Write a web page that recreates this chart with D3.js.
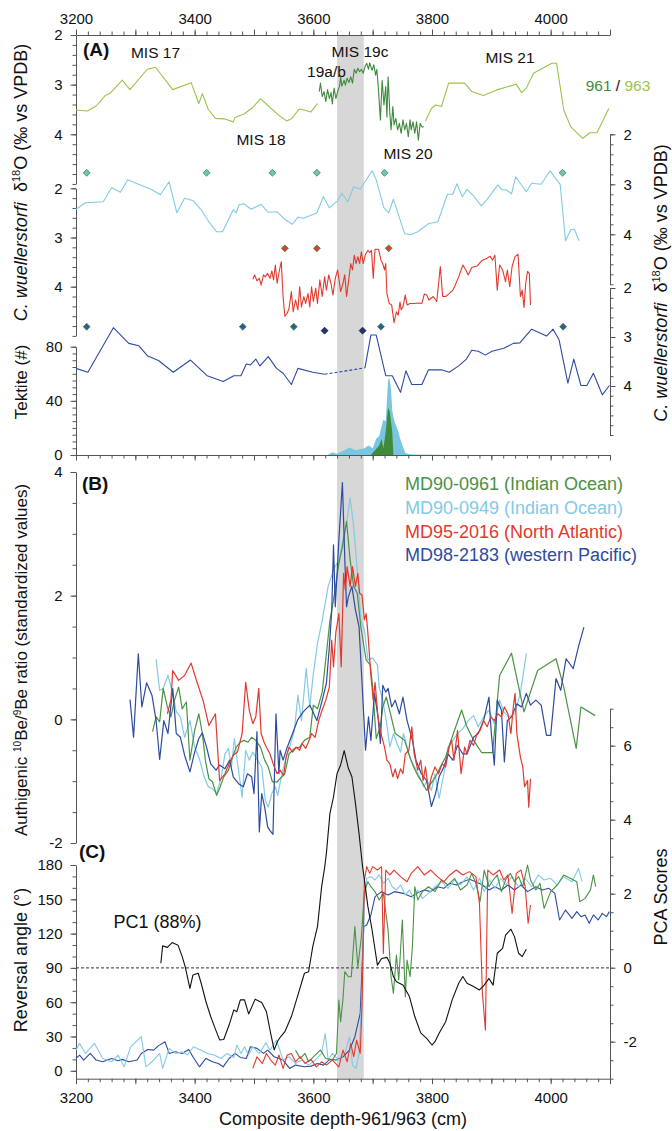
<!DOCTYPE html>
<html><head><meta charset="utf-8">
<script src="https://cdn.jsdelivr.net/npm/d3@7"></script>
<style>
body{margin:0;background:#fff}
svg{display:block;font-family:"Liberation Sans",Arial,Helvetica,sans-serif}
</style></head><body>
<svg id="c" width="672" height="1131"></svg>
<script>
// ---------------- DATA ----------------
const depthTicks = [3200,3400,3600,3800,4000];
const band = [3640,3685];

// Panel A: C. wuellerstorfi d18O (per mil)
const d963a = [[3200,3.51],[3219,3.53],[3234,3.43],[3249,3.22],[3257,3.18],[3278,2.91],[3291,3.10],[3320,2.69],[3334,2.65],[3363,3.10],[3394,2.96],[3407,3.38],[3413,3.18],[3423,3.50],[3435,3.68],[3451,3.69],[3465,3.75],[3468,3.66],[3483,3.59],[3498,3.46],[3511,3.28],[3527,3.46],[3542,3.62],[3555,3.73],[3564,3.68],[3576,3.49],[3584,3.51],[3596,3.55],[3607,3.38]];
const d961 = [[3610,3.14],[3612,2.97],[3615,3.24],[3618,3.14],[3621,3.34],[3624,3.10],[3627,3.28],[3630,3.16],[3632,3.39],[3635,3.07],[3638,3.28],[3641,3.14],[3644,3.04],[3646,2.84],[3648,3.03],[3652,2.91],[3654,3.01],[3657,2.87],[3660,2.96],[3663,2.84],[3666,2.97],[3669,2.69],[3672,2.77],[3675,2.67],[3678,2.74],[3681,2.69],[3684,2.77],[3687,2.64],[3690,2.57],[3693,2.69],[3695,2.56],[3699,2.71],[3702,2.60],[3705,2.81],[3707,2.69],[3710,3.14],[3713,3.71],[3716,2.91],[3719,3.41],[3722,3.04],[3724,3.65],[3726,2.84],[3729,3.58],[3731,3.91],[3734,3.44],[3736,3.81],[3739,3.68],[3742,3.91],[3745,3.78],[3748,3.98],[3751,3.71],[3754,3.91],[3757,3.78],[3760,4.05],[3763,3.71],[3765,3.91],[3768,3.75],[3771,3.98],[3774,3.75],[3777,4.12],[3780,3.78],[3783,3.85],[3786,3.85]];
const d963b = [[3789,3.73],[3799,3.48],[3806,3.41],[3816,3.44],[3828,2.97],[3855,2.97],[3867,3.14],[3887,3.22],[3911,3.10],[3942,2.99],[3951,3.16],[3959,3.07],[3971,2.77],[4002,2.57],[4010,2.57],[4022,3.51],[4034,3.85],[4054,4.08],[4066,3.97],[4078,3.97],[4098,3.48]];
const d949 = [[3200,3.50],[3216,3.37],[3246,3.35],[3260,3.07],[3275,3.16],[3287,2.91],[3328,3.11],[3342,3.21],[3357,2.95],[3370,3.57],[3383,3.28],[3398,3.33],[3411,3.51],[3424,3.75],[3437,3.95],[3447,3.95],[3465,3.51],[3470,3.57],[3475,3.41],[3483,3.39],[3495,3.50],[3512,3.40],[3524,3.56],[3539,3.55],[3552,3.70],[3564,3.80],[3574,3.66],[3583,3.68],[3594,3.63],[3606,3.57],[3617,3.25],[3627,3.47],[3641,3.33],[3648,3.18],[3658,3.35],[3668,3.05],[3679,3.10],[3699,2.73],[3706,2.91],[3719,3.47],[3727,3.57],[3735,3.30],[3754,3.99],[3763,4.01],[3776,3.95],[3794,3.79],[3810,3.75],[3826,3.20],[3835,3.20],[3842,2.99],[3851,3.25],[3859,3.10],[3870,3.23],[3883,3.43],[3893,3.30],[3911,3.01],[3918,3.11],[3925,3.11],[3934,3.19],[3941,2.85],[3959,3.15],[3968,2.98],[3984,3.00],[3999,2.73],[4016,3.00],[4025,4.13],[4034,3.91],[4040,3.90],[4048,4.13]];
const d2016 = [[3498,3.85],[3501,3.76],[3505,3.88],[3509,3.83],[3512,3.97],[3516,3.76],[3519,3.80],[3523,3.73],[3527,3.83],[3530,3.68],[3533,3.86],[3536,3.56],[3539,3.93],[3543,3.66],[3546,3.49],[3549,4.20],[3552,4.60],[3556,4.54],[3559,4.44],[3563,4.10],[3566,4.51],[3570,4.27],[3574,4.47],[3577,4.00],[3580,4.41],[3584,4.20],[3587,4.34],[3591,4.14],[3594,4.41],[3597,4.00],[3600,4.30],[3604,4.03],[3607,4.34],[3611,3.86],[3615,4.20],[3619,3.80],[3622,4.07],[3626,3.76],[3630,3.95],[3633,4.17],[3637,3.83],[3641,3.66],[3646,4.10],[3650,3.93],[3653,3.76],[3656,4.20],[3660,3.83],[3663,3.53],[3666,3.66],[3669,3.36],[3672,3.53],[3675,3.39],[3678,3.53],[3681,3.29],[3684,3.53],[3688,3.34],[3692,3.26],[3695,3.31],[3698,3.26],[3701,3.83],[3704,3.24],[3710,3.24],[3714,3.46],[3717,3.53],[3720,3.66],[3722,3.53],[3724,4.14],[3728,4.34],[3732,4.37],[3736,4.73],[3740,4.51],[3743,4.58],[3746,4.31],[3748,4.47],[3751,4.41],[3755,4.17],[3758,4.37],[3763,4.34],[3770,4.34],[3776,4.33],[3783,4.34],[3787,4.15],[3791,4.17],[3795,4.27],[3802,4.20],[3808,4.30],[3814,3.59],[3818,4.20],[3823,4.20],[3829,4.14],[3835,4.07],[3839,3.97],[3845,3.80],[3852,3.56],[3857,3.66],[3861,3.76],[3867,3.61],[3876,3.58],[3884,3.47],[3893,3.42],[3898,3.38],[3902,3.46],[3906,3.36],[3910,4.07],[3914,3.56],[3919,3.66],[3924,3.90],[3927,3.66],[3931,4.00],[3935,3.59],[3940,3.39],[3945,3.34],[3949,4.20],[3952,4.07],[3955,4.42],[3958,3.93],[3961,3.69],[3964,3.73],[3966,4.37]];
const d2183a = [[3200,3.64],[3220,3.72],[3263,2.81],[3289,3.13],[3306,3.18],[3321,3.39],[3339,3.48],[3364,3.72],[3393,3.47],[3421,3.79],[3448,3.91],[3466,3.79],[3478,3.79],[3487,3.55],[3494,3.57],[3503,3.45],[3510,3.59],[3524,3.40],[3538,3.64],[3549,3.74],[3563,3.97],[3574,3.64],[3599,3.72],[3619,3.76]];
const d2183gap = [[3619,3.76],[3687,3.63]];
const d2183b = [[3687,3.63],[3697,2.96],[3706,2.96],[3722,3.79],[3733,3.79],[3747,4.13],[3756,3.69],[3766,3.97],[3783,3.97],[3794,3.67],[3816,3.67],[3829,3.72],[3845,3.59],[3858,3.45],[3867,3.27],[3878,3.29],[3890,3.37],[3901,3.29],[3921,3.23],[3937,3.13],[3948,3.12],[3968,2.84],[3993,2.98],[4004,2.84],[4014,3.05],[4029,3.94],[4039,3.45],[4051,3.99],[4061,3.99],[4072,3.74],[4087,4.18],[4099,3.99]];
// age tie points (depths)
const tie949 = [3218,3420,3531,3606,3720,4020];
const tie2016 = [3552,3606,3727];
const tie2183 = [3218,3481,3567,3714,4021];
const tie2183b = [3619,3683];

// Tektite counts
const tekt949 = [[3624,0],[3632,2],[3639,1],[3650,3],[3661,5.5],[3671,3.5],[3686,5],[3693,7],[3700,5],[3706,12],[3711,14],[3715,21],[3718,26],[3722,25],[3726,55],[3728,57],[3731,48],[3733,33],[3735,28],[3738,23],[3742,19],[3747,11],[3755,1.5],[3762,0.5],[3770,0.3],[3848,0]];
const tekt961 = [[3697,0],[3704,3.6],[3711,7],[3715,12],[3718,5],[3722,17],[3726,35],[3729,32],[3733,17],[3735,0]];

// Panel B: authigenic 10Be/9Be (standardized)
const be961 = [[3329,-0.20],[3335,0.04],[3341,-0.04],[3347,0.50],[3354,0.20],[3360,0.04],[3366,0.31],[3373,0.52],[3379,0.17],[3386,0.28],[3392,-0.66],[3400,-0.18],[3407,0.09],[3413,-0.23],[3418,-0.66],[3424,-0.96],[3430,-1.01],[3437,-1.23],[3443,-1.09],[3449,-0.93],[3457,-0.82],[3462,-0.66],[3470,-0.45],[3477,-0.37],[3483,-0.34],[3490,-0.37],[3496,-0.29],[3503,-0.34],[3511,-0.45],[3518,-0.66],[3524,-0.77],[3531,-1.01],[3539,-1.01],[3544,-0.96],[3552,-0.88],[3559,-0.56],[3568,-0.47],[3577,-0.45],[3585,-0.34],[3594,-0.29],[3600,0.23],[3607,0.17],[3615,0.44],[3622,1.06],[3628,1.60],[3634,1.93],[3643,2.52],[3649,2.79],[3656,3.20],[3662,2.58],[3668,2.15],[3674,2.04],[3680,1.50],[3689,0.96],[3696,0.88],[3700,0.52],[3706,-0.31],[3713,-0.12],[3717,0.20],[3723,0.36],[3730,0.09],[3738,-0.23],[3747,-0.29],[3754,-0.34],[3761,-0.56],[3769,-0.77],[3776,-0.91],[3783,-1.01],[3791,-1.15],[3798,-1.04],[3806,-0.93],[3814,-0.77],[3823,-0.61],[3832,-0.34],[3840,-0.12],[3850,0.15],[3858,-0.10],[3870,-0.34],[3884,-0.54],[3902,-0.54],[3914,0.71],[3934,1.07],[3955,0.12],[3978,0.79],[4009,0.98],[4022,0.52],[4043,-0.47],[4051,0.20],[4075,0.06]];
const be949 = [[3335,0.97],[3341,0.47],[3347,0.50],[3355,0.71],[3363,0.42],[3369,0.12],[3376,0.04],[3383,-0.29],[3392,-0.02],[3400,-0.45],[3408,-0.64],[3416,-0.93],[3423,-1.09],[3430,-1.12],[3437,-1.20],[3445,-0.93],[3451,-0.56],[3457,-0.47],[3462,-0.77],[3467,-0.31],[3472,-0.69],[3480,-1.26],[3486,-0.50],[3492,-0.66],[3498,-0.53],[3506,-0.66],[3513,-0.77],[3519,-1.31],[3524,-1.42],[3530,-1.20],[3536,-1.09],[3540,-1.23],[3546,-0.93],[3553,-0.66],[3560,-0.45],[3568,-0.18],[3574,0.39],[3580,-0.02],[3588,0.82],[3594,0.20],[3600,0.74],[3607,1.23],[3615,1.60],[3625,2.15],[3634,2.42],[3643,2.58],[3649,2.85],[3657,3.23],[3662,3.58],[3668,3.12],[3674,2.42],[3680,1.61],[3686,1.45],[3692,0.96],[3700,0.99],[3708,0.88],[3711,0.52],[3717,0.31],[3723,-0.02],[3729,-0.45],[3735,-0.23],[3741,-0.39],[3747,-0.53],[3752,-0.23],[3758,-0.45],[3764,-0.66],[3771,-0.77],[3779,-0.93],[3786,-1.09],[3792,-0.99],[3799,-1.15],[3805,-0.88],[3812,-1.28],[3820,-0.88],[3827,-0.45],[3835,-0.34],[3843,-0.23],[3852,-0.15],[3861,-0.02],[3870,0.06],[3878,-0.12],[3887,0.04],[3896,0.15],[3905,-0.07],[3914,0.31],[3921,0.12],[3930,0.04],[3940,0.09],[3949,0.44],[3954,0.74],[3959,1.07]];
const be2016 = [[3354,0.09],[3360,0.31],[3363,0.79],[3373,0.63],[3383,0.71],[3394,0.91],[3404,0.60],[3414,0.31],[3424,-0.10],[3435,0.09],[3442,-0.99],[3451,-0.88],[3458,-0.72],[3465,-0.58],[3472,-0.53],[3480,-0.23],[3486,0.60],[3492,0.15],[3498,-0.07],[3503,0.04],[3508,0.50],[3512,-0.23],[3517,-0.37],[3521,-0.45],[3527,-0.56],[3533,-0.74],[3539,-0.88],[3544,-0.82],[3550,-0.91],[3554,-0.61],[3559,-0.45],[3565,-0.53],[3571,-0.45],[3577,-0.50],[3581,-0.39],[3587,-0.47],[3593,-0.34],[3597,-0.23],[3603,-0.29],[3609,-0.02],[3615,0.15],[3621,0.31],[3627,0.52],[3631,1.28],[3634,0.85],[3638,1.41],[3643,1.71],[3647,0.85],[3651,2.36],[3654,2.09],[3657,2.47],[3662,2.15],[3666,2.47],[3671,2.15],[3675,2.36],[3678,2.04],[3682,2.01],[3686,1.61],[3689,1.71],[3692,1.39],[3697,0.71],[3701,0.31],[3704,0.60],[3709,0.04],[3714,-0.23],[3720,-0.45],[3724,-0.66],[3729,-0.72],[3734,-0.93],[3738,-0.80],[3742,-0.96],[3747,-0.80],[3751,-0.88],[3755,-0.56],[3761,-0.50],[3766,-0.12],[3770,-0.56],[3776,-0.82],[3781,-0.66],[3785,-0.99],[3789,-0.77],[3794,-1.15],[3799,-0.93],[3805,-0.77],[3811,-0.88],[3817,-0.72],[3823,-0.77],[3829,-0.45],[3833,-0.34],[3837,-0.66],[3843,-0.18],[3849,-0.88],[3855,-0.45],[3859,-0.56],[3864,-0.34],[3870,-0.42],[3876,-0.23],[3881,-0.18],[3887,-0.02],[3893,-0.12],[3899,0.04],[3905,-0.02],[3911,0.09],[3917,0.04],[3922,0.20],[3928,0.09],[3933,-0.23],[3937,0.20],[3940,0.42],[3943,-0.23],[3949,-0.61],[3953,-0.77],[3956,-1.09],[3961,-0.99],[3963,-1.42],[3966,-0.96]];
const be2183 = [[3291,0.32],[3297,-0.29],[3305,1.06],[3311,0.20],[3319,0.59],[3328,0.39],[3335,-0.02],[3341,-0.65],[3348,-0.02],[3355,-0.23],[3363,0.50],[3369,-0.23],[3376,-0.29],[3383,-0.58],[3392,-0.85],[3400,-0.53],[3407,-0.31],[3413,-0.22],[3420,-0.45],[3427,-0.72],[3436,-0.82],[3442,-0.74],[3451,-0.80],[3459,-0.66],[3465,-0.93],[3474,-1.04],[3482,-1.09],[3489,-0.88],[3496,-0.93],[3500,-1.20],[3505,-0.20],[3509,-1.82],[3513,-1.20],[3518,-1.42],[3523,-1.74],[3527,-1.80],[3532,-1.86],[3537,0.09],[3542,-0.88],[3544,-0.50],[3549,-0.66],[3556,-0.45],[3565,-0.23],[3574,0.00],[3583,0.12],[3594,0.23],[3606,-0.02],[3615,0.31],[3622,0.58],[3627,1.17],[3631,1.76],[3634,2.82],[3637,1.82],[3643,2.90],[3649,3.83],[3653,2.60],[3656,1.82],[3659,1.98],[3665,2.15],[3671,1.77],[3677,1.50],[3683,0.42],[3688,-0.50],[3693,0.04],[3697,-0.34],[3703,0.42],[3709,0.04],[3713,-0.39],[3717,0.55],[3722,0.44],[3726,0.50],[3732,0.20],[3738,0.31],[3745,0.09],[3751,0.36],[3758,-0.02],[3767,-0.34],[3773,-0.66],[3782,-0.88],[3791,-0.99],[3799,-1.41],[3806,-1.20],[3812,-0.93],[3820,-0.77],[3827,-0.56],[3835,-0.66],[3843,-0.42],[3852,-0.56],[3859,-0.56],[3870,-0.29],[3878,-0.23],[3887,-0.02],[3896,0.36],[3900,-0.23],[3905,-0.74],[3910,0.31],[3917,0.15],[3922,-0.69],[3927,-0.02],[3934,0.04],[3943,0.25],[3951,0.20],[3959,0.42],[3966,0.23],[3975,0.31],[3984,0.23],[3993,-0.26],[4000,-0.26],[4009,0.66],[4017,0.47],[4026,0.98],[4038,0.82],[4047,1.18],[4056,1.49]];

// Panel C: reversal angle (deg) and PC1 scores
const rev949 = [[3200,18.1],[3206,24],[3216,15.2],[3231,24],[3245,10.8],[3260,7.9],[3271,13.8],[3281,3.5],[3292,21],[3310,29.8],[3318,3.5],[3328,7.9],[3341,15.2],[3346,2.1],[3357,19.6],[3368,15.2],[3379,16.7],[3388,13.8],[3398,21],[3410,18.1],[3422,15.2],[3433,13.8],[3444,10.8],[3455,15.2],[3466,11.7],[3471,22.5],[3478,15.2],[3484,21],[3491,13.8],[3498,21],[3509,15.2],[3520,24.6],[3527,18.1],[3538,26.9],[3549,9.4],[3559,12.3],[3570,6.4],[3581,9.4],[3592,5],[3603,9.4],[3614,15.2],[3620,32.7],[3625,9.4],[3632,15.2],[3643,9.4],[3653,15.2],[3661,29.8],[3666,5],[3672,2.1],[3677,15.2],[3682,67.7],[3686,146.5],[3690,168.4],[3697,169.8],[3704,166.9],[3711,171.3],[3718,164],[3726,168.4],[3733,161],[3740,158.1],[3747,162.5],[3755,153.8],[3762,158.1],[3769,150.8],[3776,158.1],[3784,150.8],[3794,155.2],[3805,161],[3816,165.4],[3827,159.6],[3838,166.9],[3848,162.5],[3859,169.8],[3870,158.1],[3880,168.4],[3888,156.7],[3897,166.9],[3906,159.6],[3916,168.4],[3924,162.5],[3935,169.8],[3946,161],[3957,168.4],[3968,161],[3979,171.3],[3989,166.9],[4000,168.4],[4011,162.5],[4022,169.8],[4036,165.4],[4047,177.1],[4053,165.4]];
const rev2183 = [[3200,10.8],[3206,13.8],[3213,9.4],[3224,15.2],[3234,9.4],[3245,7.9],[3260,10.8],[3271,8.8],[3278,10],[3289,7.9],[3303,9.4],[3310,15.2],[3321,18.7],[3331,18.1],[3338,21.6],[3350,25.4],[3357,15.2],[3368,16.7],[3379,15.2],[3390,18.7],[3397,12.3],[3408,3.5],[3419,10.8],[3430,7.9],[3440,6.4],[3448,3.5],[3458,10.8],[3468,15.2],[3477,11.7],[3487,10.8],[3494,21],[3505,19.6],[3516,15.2],[3523,18.1],[3534,12.3],[3549,9.4],[3560,2.1],[3570,5],[3585,3.5],[3596,4.1],[3607,6.4],[3617,5],[3628,10],[3639,9.4],[3650,12.3],[3661,18.1],[3670,29.8],[3679,50.2],[3685,126.1],[3690,127.5],[3697,136.3],[3704,152.3],[3715,156.7],[3726,153.8],[3737,156.7],[3751,155.2],[3765,152.3],[3776,155.8],[3787,158.1],[3798,156.7],[3809,161],[3820,159.6],[3830,164],[3841,162.5],[3852,165.4],[3863,167.5],[3874,165.4],[3885,162.5],[3896,158.1],[3906,161],[3917,158.1],[3928,162.5],[3939,158.1],[3950,162.5],[3961,156.7],[3975,161],[3986,158.1],[3997,159.6],[4007,155.2],[4015,131.9],[4025,140.6],[4036,133.3],[4044,139.2],[4051,134.8],[4058,136.3],[4065,129],[4072,136.3],[4080,131.9],[4087,137.7],[4094,134.8],[4099,139.2]];
const rev961 = [[3570,18.1],[3578,10.8],[3586,15.2],[3592,7.9],[3603,13.8],[3612,18.1],[3621,10.8],[3632,9.4],[3639,15.2],[3643,61.9],[3646,43],[3650,63.3],[3653,86.7],[3659,82.3],[3664,82.3],[3670,126.1],[3675,91],[3681,117.3],[3686,156.7],[3692,165.4],[3697,161],[3704,156.7],[3711,149.4],[3718,155.2],[3726,123.1],[3731,82.3],[3735,67.7],[3740,101.3],[3744,79.4],[3750,131.9],[3755,64.8],[3758,96.9],[3763,82.3],[3767,108.6],[3771,161],[3776,149.4],[3784,156.7],[3794,161],[3805,156.7],[3816,166.9],[3827,162.5],[3838,168.4],[3848,158.1],[3859,162.5],[3867,172.7],[3874,164],[3881,147.9],[3888,175.6],[3896,161],[3903,166.9],[3910,171.3],[3917,156.7],[3924,166.9],[3932,172.7],[3939,165.4],[3946,169.8],[3953,161],[3961,180],[3966,166.9],[3975,158.1],[3982,164],[3989,142.1],[4000,156.7],[4011,162.5],[4022,171.3],[4033,168.4],[4044,165.4],[4049,147.9],[4058,150.8],[4067,158.1],[4072,171.3],[4076,161]];
const rev2016 = [[3498,2.1],[3505,12.3],[3514,6.4],[3521,15.2],[3528,9.4],[3536,5],[3542,13.8],[3549,2.1],[3556,13.8],[3563,15.2],[3570,7.9],[3578,12.3],[3586,6.4],[3596,10],[3605,3.5],[3614,7.9],[3622,5],[3632,9.4],[3643,3.5],[3650,18.1],[3657,7.9],[3663,23.9],[3668,12.3],[3673,26.9],[3679,15.2],[3682,56],[3686,166.9],[3690,178.6],[3695,172.7],[3700,178.6],[3708,175.6],[3715,178.6],[3718,102.7],[3722,175.6],[3729,171.3],[3736,175.6],[3747,169.8],[3758,165.4],[3765,172.7],[3776,178.6],[3787,171.3],[3798,175.6],[3809,169.8],[3820,165.4],[3830,171.3],[3841,175.6],[3852,171.3],[3863,174.2],[3874,169.8],[3880,146.5],[3885,67.7],[3890,35.6],[3894,175.6],[3903,171.3],[3914,175.6],[3921,166.9],[3928,171.3],[3935,137.7],[3942,172.7],[3950,175.6],[3957,161],[3962,129],[3966,145]];
const pc1 = [[3343,0.12],[3346,0.59],[3354,0.55],[3362,0.68],[3372,0.61],[3379,0.30],[3384,0.03],[3392,-0.56],[3397,-0.20],[3406,-0.15],[3411,-0.42],[3419,-0.92],[3427,-1.32],[3433,-1.58],[3442,-1.95],[3449,-1.94],[3458,-1.55],[3466,-1.14],[3471,-1.19],[3477,-0.87],[3484,-0.87],[3491,-1.25],[3502,-0.85],[3513,-0.94],[3521,-1.19],[3528,-1.77],[3534,-2.22],[3540,-1.98],[3545,-1.86],[3552,-1.73],[3563,-1.32],[3574,-0.74],[3585,-0.15],[3592,-0.11],[3599,0.57],[3607,1.11],[3614,2.19],[3619,2.70],[3622,3.09],[3628,4.17],[3634,4.62],[3640,5.25],[3646,5.48],[3652,5.87],[3659,5.39],[3665,5.16],[3671,4.44],[3677,3.63],[3683,2.73],[3685,2.50],[3692,1.65],[3699,1.02],[3708,0.07],[3715,0.25],[3724,0.28],[3729,0.12],[3735,-0.24],[3740,-0.38],[3751,-0.47],[3762,-0.78],[3771,-1.32],[3781,-1.76],[3791,-1.91],[3800,-2.09],[3805,-2.00],[3812,-1.77],[3823,-1.46],[3834,-0.87],[3845,-0.42],[3852,-0.24],[3859,-0.42],[3870,-0.51],[3880,-0.60],[3888,-0.47],[3896,-0.29],[3903,-0.47],[3910,0.39],[3919,0.52],[3924,0.88],[3933,1.04],[3939,0.84],[3946,0.39],[3952,0.30],[3959,0.50]];

const legendItems = ["MD90-0961 (Indian Ocean)","MD90-0949 (Indian Ocean)","MD95-2016 (North Atlantic)","MD98-2183 (western Pacific)"];

// ---------------- DRAW ----------------
const C = {g963:"#9cc34b", g961:"#3d8b3d", green:"#4b9146", lblue:"#82cae6", red:"#e1392e", blue:"#2e4b9f", navy:"#26336a", axis:"#555"};
const svg = d3.select("#c");
const FONT = '"Liberation Sans",Arial,Helvetica,sans-serif';

const x = d3.scaleLinear().domain([3200,4100]).range([76,610]);
const yG  = d3.scaleLinear().domain([2,5]).range([35,183.95]);
const yLB = d3.scaleLinear().domain([2,5]).range([134.3,284.3]);
const yR  = d3.scaleLinear().domain([2,5]).range([188.3,335.9]);
const yD  = d3.scaleLinear().domain([2,5]).range([288,435]);
const yT  = d3.scaleLinear().domain([0,80]).range([455,346.7]);
const yB  = d3.scaleLinear().domain([-2,4]).range([843,472]);
const yC  = d3.scaleLinear().domain([-6.9,180]).range([1078.7,865]);
const yP  = d3.scaleLinear().domain([-3,7]).range([1078.7,708.7]);

// grey band
svg.append("rect").attr("x",x(band[0])).attr("width",x(band[1])-x(band[0]))
  .attr("y",35).attr("height",1078.7-35).attr("fill","#d7d7d7");

function rng(a,b,s){const o=[];for(let v=a;v<=b+1e-9;v+=s)o.push(+v.toFixed(6));return o;}
function axis(fn, scale, ty, tx, minor, major, fmt, pad){
  const g = svg.append("g").attr("transform",`translate(${tx},${ty})`);
  g.call(fn(scale).tickValues(minor).tickSize(3.5).tickSizeOuter(0).tickFormat(""));
  const g2 = svg.append("g").attr("transform",`translate(${tx},${ty})`);
  g2.call(fn(scale).tickValues(major).tickSize(5.5).tickSizeOuter(0).tickPadding(pad).tickFormat(fmt||(d=>d)));
  g2.select(".domain").remove();
  [g,g2].forEach(q=>{q.selectAll("path,line").attr("stroke",C.axis).attr("stroke-width",1);
    q.attr("font-family",FONT).attr("font-size",15).selectAll("text").attr("fill","#111");});
}
const fmtNeg = d=> (d<0?"-"+Math.abs(d):d);
// x axes
axis(d3.axisTop, x, 35, 0, rng(3200,4100,20), rng(3200,4100,100), d=>depthTicks.includes(d)?d:"", 6);
axis(d3.axisBottom, x, 455, 0, rng(3200,4100,20), rng(3200,4100,100), d=>"", 6);
axis(d3.axisBottom, x, 1078.7, 0, rng(3200,4100,20), rng(3200,4100,100), d=>depthTicks.includes(d)?d:"", 8);
// left axes
axis(d3.axisLeft, yG, 0, 76, rng(2,5,0.2), [2,3,4], null, 8);
axis(d3.axisLeft, yR, 0, 76, rng(2,5,0.2), [2,3,4], null, 8);
axis(d3.axisLeft, yT, 0, 76, rng(0,80,5), [0,40,80], null, 8);
axis(d3.axisLeft, yB, 0, 76, rng(-2,4,0.5), [-2,0,2,4], fmtNeg, 8);
axis(d3.axisLeft, yC, 0, 76, rng(0,180,10), rng(0,180,30), null, 8);
// right axes
axis(d3.axisRight, yLB, 0, 610, rng(2,5,0.2), [2,3,4], null, 8);
axis(d3.axisRight, yD, 0, 610, rng(2,5,0.2), [2,3,4], null, 8);
axis(d3.axisRight, yP, 0, 610, rng(-3,7,0.5), [-2,0,2,4,6], fmtNeg, 8);

// dashed zero line
svg.append("line").attr("x1",76).attr("x2",610).attr("y1",yC(90)).attr("y2",yC(90))
  .attr("stroke","#333").attr("stroke-width",1).attr("stroke-dasharray","3,2");

function plot(data, ys, color, w, dash){
  const p = svg.append("path").datum(data)
    .attr("d", d3.line().x(d=>x(d[0])).y(d=>ys(d[1])))
    .attr("fill","none").attr("stroke",color).attr("stroke-width",w||1).attr("stroke-linejoin","round");
  if(dash) p.attr("stroke-dasharray",dash);
}
// Panel A
plot(d963a,yG,C.g963,1.1); plot(d963b,yG,C.g963,1.1); plot(d961,yG,C.g961,1.1);
plot(d949,yLB,C.lblue,1.1);
plot(d2016,yR,C.red,1.1);
plot(d2183a,yD,C.blue,1.1); plot(d2183b,yD,C.blue,1.1); plot(d2183gap,yD,C.blue,1.1,"3,2");

function diamonds(xs, yv, fill, stroke){
  svg.append("g").selectAll("path").data(xs).join("path")
    .attr("transform",d=>`translate(${x(d)},${yv})`)
    .attr("d",d3.symbol(d3.symbolDiamond2,30)())
    .attr("fill",fill).attr("stroke",stroke).attr("stroke-width",0.9);
}
diamonds(tie949, yLB(2.77), "#74c4bd", "#3f8f5a");
diamonds(tie2016, yR(3.22), "#d8402f", "#3f8f3f");
diamonds(tie2183, yD(2.79), "#2f58a6", "#3f8f3f");
diamonds(tie2183b, yD(2.87), C.navy, "#1d2550");

// Tektites
const area = d3.area().x(d=>x(d[0])).y0(yT(0)).y1(d=>yT(d[1]));
svg.append("path").datum(tekt949).attr("d",area).attr("fill","#79c6e0");
svg.append("path").datum(tekt961).attr("d",area).attr("fill","#3f8a3b");

// Panel B
plot(be949,yB,C.lblue,1.2); plot(be961,yB,C.green,1.2); plot(be2183,yB,C.blue,1.2); plot(be2016,yB,C.red,1.2);
// Panel C
plot(rev2183,yC,C.blue,1.1); plot(rev949,yC,C.lblue,1.1); plot(rev961,yC,C.green,1.1); plot(rev2016,yC,C.red,1.1);
plot(pc1,yP,"#111",1.1);

// ---------------- TEXT ----------------
function txt(s,xx,yy,opt){
  const t = svg.append("text").attr("x",xx).attr("y",yy).attr("font-family",FONT)
    .attr("font-size",opt&&opt.size||15.5).attr("fill",opt&&opt.fill||"#111")
    .attr("text-anchor",opt&&opt.anchor||"middle");
  if(opt&&opt.bold) t.attr("font-weight","bold");
  t.text(s); return t;
}
txt("(A)",83,56,{size:19,bold:true,anchor:"start"});
txt("(B)",82,490,{size:19,bold:true,anchor:"start"});
txt("(C)",79,858,{size:19,bold:true,anchor:"start"});
txt("MIS 17",155.5,58);
txt("MIS 19c",360,56.5);
txt("19a/b",326.5,76.5);
txt("MIS 21",510,63);
txt("MIS 18",261,145);
txt("MIS 20",408,159);
const t961 = svg.append("text").attr("x",618).attr("y",90.5).attr("text-anchor","middle")
  .attr("font-family",FONT).attr("font-size",15.5);
t961.append("tspan").attr("fill",C.g961).text("961");
t961.append("tspan").attr("fill","#111").text(" / ");
t961.append("tspan").attr("fill",C.g963).text("963");

txt("PC1 (88%)",113.5,928,{size:18,anchor:"start"});

const legColors = [C.green,C.lblue,C.red,C.blue];
legendItems.forEach((s,i)=>txt(s,405,490+i*23.8,{size:18,anchor:"start",fill:legColors[i]}));

txt("Composite depth-961/963 (cm)",343,1125,{size:18});

function d18label(cx,cy){
  const t = svg.append("text").attr("transform",`translate(${cx},${cy}) rotate(-90)`)
    .attr("text-anchor","middle").attr("font-family",FONT).attr("font-size",18).attr("fill","#111");
  t.append("tspan").attr("font-style","italic").text("C. wuellerstorfi");
  t.append("tspan").text("\u00a0\u00a0δ");
  t.append("tspan").attr("font-size",11).attr("dy",-7).text("18");
  t.append("tspan").attr("dy",7).text("O (‰ vs VPDB)");
}
d18label(27,182.5);
d18label(667,283);

function vlab(s,cx,cy,size){
  return svg.append("text").attr("transform",`translate(${cx},${cy}) rotate(-90)`)
    .attr("text-anchor","middle").attr("font-family",FONT).attr("font-size",size).attr("fill","#111").text(s);
}
vlab("Tektite (#)",27,382,17);
vlab("Reversal angle (°)",27,960,18);
vlab("PCA Scores",667,897,18);
const ab = svg.append("text").attr("transform","translate(27,660) rotate(-90)")
  .attr("text-anchor","middle").attr("font-family",FONT).attr("font-size",17).attr("fill","#111");
ab.append("tspan").text("Authigenic ");
ab.append("tspan").attr("font-size",10).attr("dy",-6).text("10");
ab.append("tspan").attr("dy",6).text("Be/");
ab.append("tspan").attr("font-size",10).attr("dy",-6).text("9");
ab.append("tspan").attr("dy",6).text("Be ratio (standardized values)");
</script></body></html>
